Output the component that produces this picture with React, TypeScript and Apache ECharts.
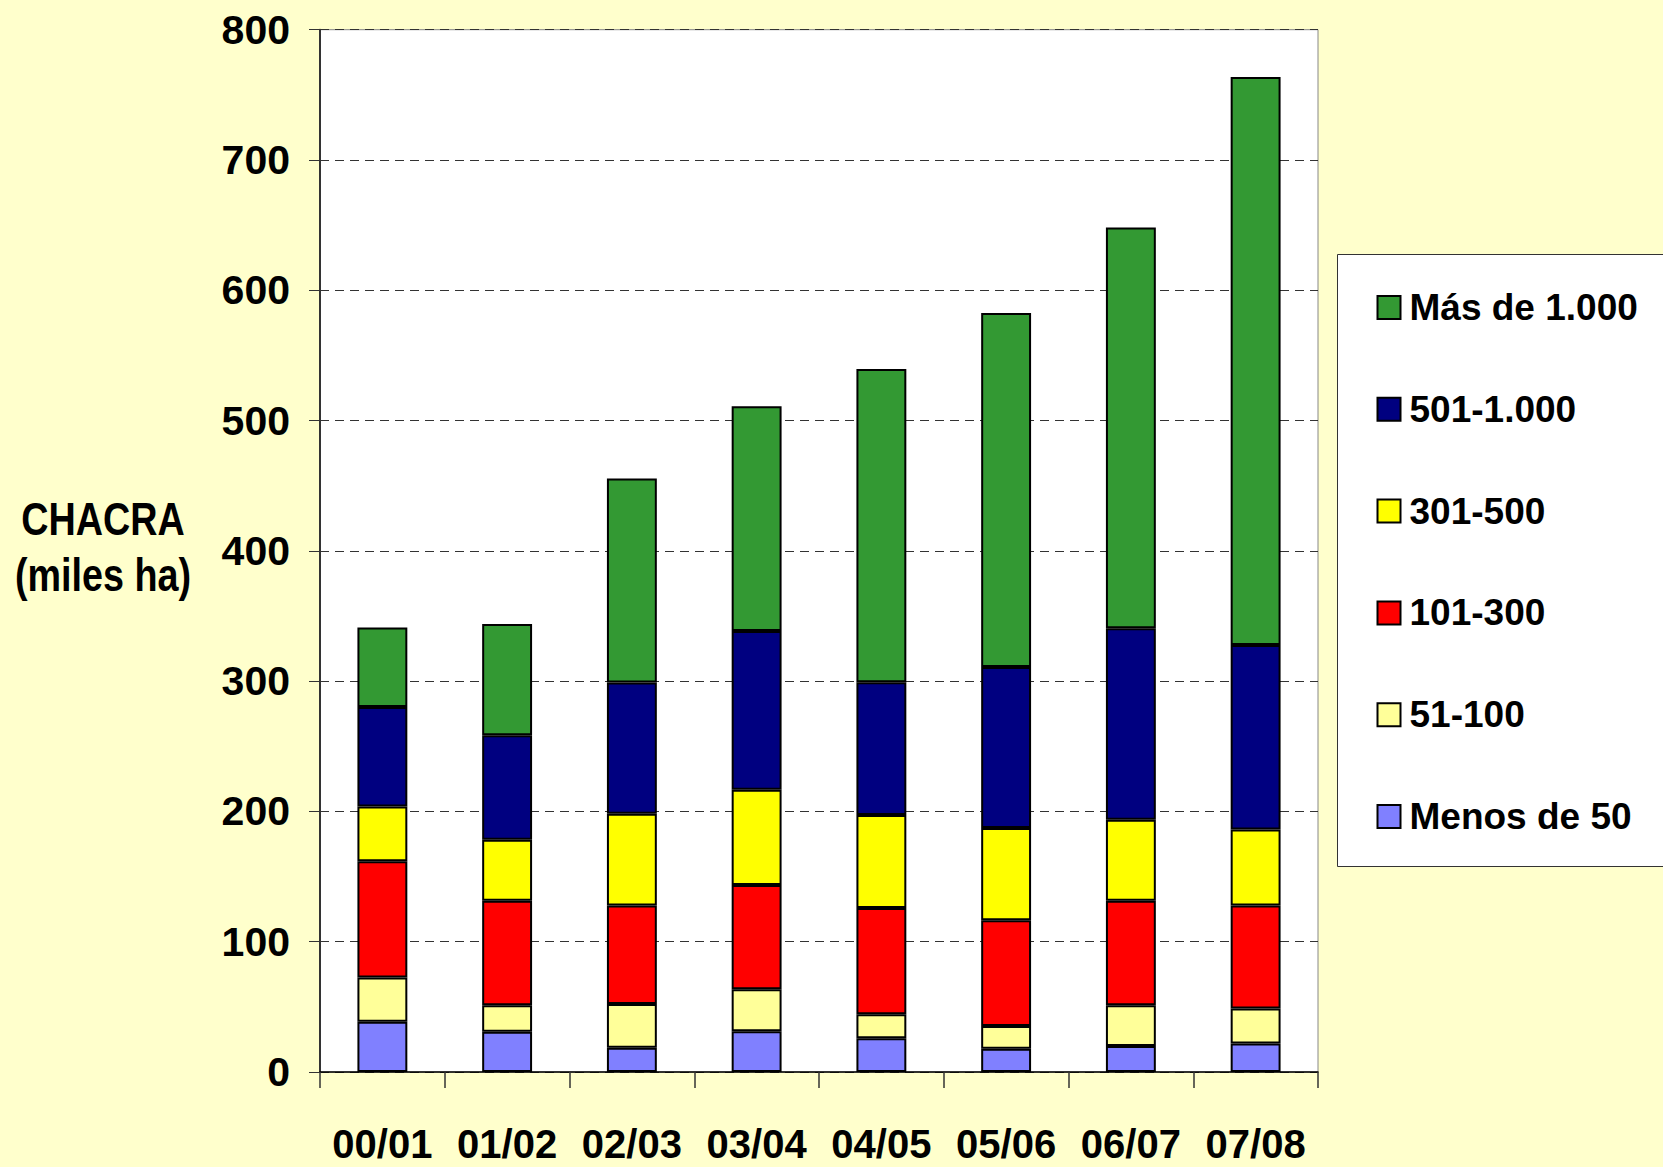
import React, { useEffect, useRef } from "react";
import * as echarts from "echarts";

const categories = ["00/01", "01/02", "02/03", "03/04", "04/05", "05/06", "06/07", "07/08"];
const menos50 = [38.5, 30.8, 18.7, 31.3, 25.9, 17.9, 20, 21.8];
const de51a100 = [34, 20.5, 33.4, 32.3, 18.5, 17.5, 31.3, 26.9];
const de101a300 = [89.2, 80.2, 75.6, 80, 81.5, 81, 80.2, 79];
const de301a500 = [42, 46.7, 70.5, 73.1, 71.3, 70.8, 62.1, 58.5];
const de501a1000 = [76.5, 80.3, 100.8, 121.8, 102, 123.6, 146.9, 141.5];
const masDe1000 = [61, 85.3, 156.6, 172.5, 240.4, 271.7, 307.6, 435.9];
const yTicks = [0, 100, 200, 300, 400, 500, 600, 700, 800];

const seriesDefs = [
  { name: "Menos de 50", data: menos50, color: "#8080FF" },
  { name: "51-100", data: de51a100, color: "#FFFF99" },
  { name: "101-300", data: de101a300, color: "#FF0000" },
  { name: "301-500", data: de301a500, color: "#FFFF00" },
  { name: "501-1.000", data: de501a1000, color: "#000080" },
  { name: "Más de 1.000", data: masDe1000, color: "#339933" },
];

const FONT = "'Liberation Sans', Arial, sans-serif";

export default function App() {
  const ref = useRef<HTMLDivElement>(null);
  useEffect(() => {
    if (!ref.current) return;
    const chart = echarts.init(ref.current, null, { renderer: "svg" });
    chart.setOption({
      animation: false,
      backgroundColor: "#FFFFCC",
      textStyle: { fontFamily: FONT },
      grid: {
        left: 320,
        right: 345,
        top: 29.7,
        bottom: 95,
        show: true,
        backgroundColor: "#FFFFFF",
        borderColor: "#888888",
        borderWidth: 1,
      },
      legend: {
        orient: "vertical",
        left: 1337.5,
        top: 254.5,
        data: [...seriesDefs].reverse().map((s) => s.name),
        backgroundColor: "#FFFFFF",
        borderColor: "#333333",
        borderWidth: 1,
        padding: [31, 60, 28, 39],
        itemWidth: 23,
        itemHeight: 23,
        itemGap: 57.8,
        icon: "rect",
        textStyle: {
          fontFamily: FONT,
          fontSize: 37,
          fontWeight: "bold",
          color: "#000000",
          lineHeight: 44,
          padding: [0, 0, 0, 4],
        },
      },
      xAxis: {
        type: "category",
        data: categories,
        boundaryGap: true,
        axisLine: { lineStyle: { color: "#000000", width: 1.5 } },
        axisTick: { show: true, length: 16, alignWithLabel: false, lineStyle: { color: "#333333", width: 1.5 } },
        axisLabel: {
          interval: 0,
          margin: 52,
          fontFamily: FONT,
          fontSize: 40,
          fontWeight: "bold",
          color: "#000000",
        },
      },
      yAxis: {
        type: "value",
        min: yTicks[0],
        max: yTicks[yTicks.length - 1],
        interval: 100,
        axisLine: { show: true, lineStyle: { color: "#333333", width: 2 } },
        axisTick: { show: true, length: 11, lineStyle: { color: "#333333", width: 1 } },
        axisLabel: {
          margin: 30,
          fontFamily: FONT,
          fontSize: 41,
          fontWeight: "bold",
          color: "#000000",
        },
        splitLine: { show: true, lineStyle: { color: "#333333", width: 1, type: [9, 6] } },
      },
      graphic: [
        {
          type: "text",
          x: 103,
          y: 547,
          scaleX: 0.82,
          style: {
            text: "CHACRA\n(miles ha)",
            fontFamily: FONT,
            fontSize: 46,
            fontWeight: "bold",
            fill: "#000000",
            align: "center",
            verticalAlign: "middle",
            lineHeight: 56,
          },
        },
      ],
      series: seriesDefs.map((s) => ({
        name: s.name,
        type: "bar",
        stack: "total",
        barWidth: "40%",
        data: s.data,
        itemStyle: { color: s.color, borderColor: "#000000", borderWidth: 2 },
      })),
    });
    return () => chart.dispose();
  }, []);
  return (
    <div
      ref={ref}
      style={{ position: "fixed", left: 0, top: 0, width: 1663, height: 1167 }}
    />
  );
}
